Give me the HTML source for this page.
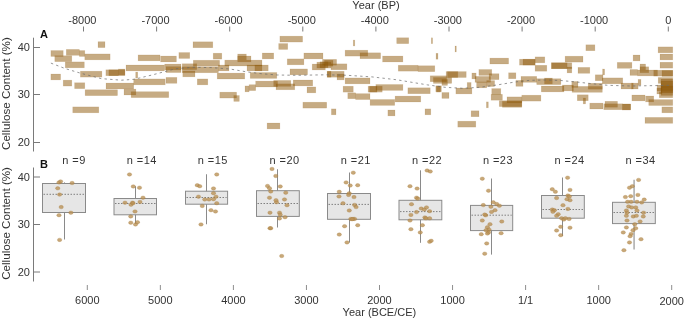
<!DOCTYPE html><html><head><meta charset="utf-8"><style>html,body{margin:0;padding:0;background:#fff;}svg{display:block;will-change:transform}text{font-family:"Liberation Sans",sans-serif;}</style></head><body>
<svg width="685" height="320" viewBox="0 0 685 320">
<rect width="685" height="320" fill="#fff"/>
<text x="376" y="8.6" font-size="11" text-anchor="middle" fill="#333">Year (BP)</text>
<text x="82.4" y="23.6" font-size="11" text-anchor="middle" fill="#333">-8000</text>
<line x1="83.5" y1="26.5" x2="83.5" y2="31.5" stroke="#7a7a7a" stroke-width="1"/>
<text x="155.5" y="23.6" font-size="11" text-anchor="middle" fill="#333">-7000</text>
<line x1="156.6" y1="26.5" x2="156.6" y2="31.5" stroke="#7a7a7a" stroke-width="1"/>
<text x="228.6" y="23.6" font-size="11" text-anchor="middle" fill="#333">-6000</text>
<line x1="229.7" y1="26.5" x2="229.7" y2="31.5" stroke="#7a7a7a" stroke-width="1"/>
<text x="301.7" y="23.6" font-size="11" text-anchor="middle" fill="#333">-5000</text>
<line x1="302.8" y1="26.5" x2="302.8" y2="31.5" stroke="#7a7a7a" stroke-width="1"/>
<text x="374.8" y="23.6" font-size="11" text-anchor="middle" fill="#333">-4000</text>
<line x1="375.9" y1="26.5" x2="375.9" y2="31.5" stroke="#7a7a7a" stroke-width="1"/>
<text x="447.9" y="23.6" font-size="11" text-anchor="middle" fill="#333">-3000</text>
<line x1="449" y1="26.5" x2="449" y2="31.5" stroke="#7a7a7a" stroke-width="1"/>
<text x="521" y="23.6" font-size="11" text-anchor="middle" fill="#333">-2000</text>
<line x1="522.1" y1="26.5" x2="522.1" y2="31.5" stroke="#7a7a7a" stroke-width="1"/>
<text x="594.1" y="23.6" font-size="11" text-anchor="middle" fill="#333">-1000</text>
<line x1="595.2" y1="26.5" x2="595.2" y2="31.5" stroke="#7a7a7a" stroke-width="1"/>
<text x="668.3" y="23.6" font-size="11" text-anchor="middle" fill="#333">0</text>
<line x1="668.3" y1="26.5" x2="668.3" y2="31.5" stroke="#7a7a7a" stroke-width="1"/>
<line x1="33.5" y1="37.7" x2="33.5" y2="151.5" stroke="#7a7a7a" stroke-width="1"/>
<line x1="33.5" y1="47.5" x2="40" y2="47.5" stroke="#7a7a7a" stroke-width="1"/>
<text x="30" y="51.3" font-size="11" text-anchor="end" fill="#333">40</text>
<line x1="33.5" y1="94.5" x2="40" y2="94.5" stroke="#7a7a7a" stroke-width="1"/>
<text x="30" y="98.3" font-size="11" text-anchor="end" fill="#333">30</text>
<line x1="33.5" y1="142.5" x2="40" y2="142.5" stroke="#7a7a7a" stroke-width="1"/>
<text x="30" y="146.3" font-size="11" text-anchor="end" fill="#333">20</text>
<text x="39.9" y="37.6" font-size="11" font-weight="bold" fill="#111">A</text>
<text transform="translate(10.2,93.6) rotate(-90)" font-size="11.6" text-anchor="middle" fill="#333">Cellulose Content (%)</text>
<g fill="rgb(141,88,8)" fill-opacity="0.5" stroke="rgb(141,88,8)" stroke-opacity="0.16" stroke-width="0.6">
<rect x="50.9" y="50.55" width="12.3" height="5.9"/>
<rect x="54.8" y="55.75" width="17" height="5.9"/>
<rect x="66.3" y="49.4" width="13" height="5.9"/>
<rect x="79.3" y="50.55" width="5.5" height="5.9"/>
<rect x="84.8" y="53.95" width="25.3" height="5.9"/>
<rect x="98" y="41.7" width="7" height="5.9"/>
<rect x="65.25" y="61.9" width="19.05" height="5.9"/>
<rect x="50.9" y="74" width="9.7" height="5.9"/>
<rect x="80.4" y="71.2" width="21.5" height="5.9"/>
<rect x="105.9" y="69.8" width="19" height="5.9"/>
<rect x="108.9" y="69.8" width="9.5" height="5.9"/>
<rect x="118.4" y="69" width="6.5" height="5.9"/>
<rect x="126" y="65" width="38.4" height="5.9"/>
<rect x="63.2" y="80.15" width="8.6" height="5.9"/>
<rect x="74.6" y="82.75" width="10.2" height="5.9"/>
<rect x="85.1" y="89.75" width="32.4" height="5.9"/>
<rect x="106" y="83.05" width="27.7" height="5.9"/>
<rect x="124" y="89.1" width="11.9" height="5.9"/>
<rect x="133.7" y="78.95" width="31.5" height="5.9"/>
<rect x="131.1" y="91.7" width="37.65" height="5.9"/>
<rect x="135.7" y="72.05" width="2" height="5.9"/>
<rect x="72.75" y="106.9" width="26.05" height="5.9"/>
<rect x="138.1" y="54.95" width="21.9" height="5.9"/>
<rect x="160.6" y="56.05" width="15.8" height="5.9"/>
<rect x="178.9" y="52.55" width="10.8" height="5.9"/>
<rect x="193" y="41.8" width="19.8" height="5.9"/>
<rect x="213.2" y="53.2" width="8.6" height="5.9"/>
<rect x="224.8" y="60.1" width="37.2" height="5.9"/>
<rect x="164.7" y="64.05" width="16.3" height="5.9"/>
<rect x="166" y="66.65" width="15" height="5.9"/>
<rect x="182.2" y="63.75" width="14.6" height="5.9"/>
<rect x="193.3" y="60.25" width="26.3" height="5.9"/>
<rect x="182.2" y="66.85" width="36.2" height="5.9"/>
<rect x="182.8" y="70.95" width="12.2" height="5.9"/>
<rect x="217.2" y="73.1" width="27.55" height="5.9"/>
<rect x="218.4" y="65" width="10.6" height="5.9"/>
<rect x="166" y="77.4" width="10.9" height="5.9"/>
<rect x="197.3" y="78.95" width="10.5" height="5.9"/>
<rect x="219.8" y="92.15" width="16.8" height="5.9"/>
<rect x="279.9" y="36.15" width="22.7" height="5.9"/>
<rect x="278.7" y="43.55" width="9" height="5.9"/>
<rect x="262.25" y="53" width="11.45" height="5.9"/>
<rect x="303.9" y="53" width="19.1" height="5.9"/>
<rect x="287.25" y="58.9" width="16.65" height="5.9"/>
<rect x="237.7" y="54" width="8.6" height="5.9"/>
<rect x="237.7" y="56" width="13.3" height="5.9"/>
<rect x="247" y="65" width="15" height="5.9"/>
<rect x="254.9" y="65" width="13.3" height="5.9"/>
<rect x="250.2" y="72.5" width="26.6" height="5.9"/>
<rect x="290" y="68.95" width="17.5" height="5.9"/>
<rect x="312.2" y="64.05" width="13.1" height="5.9"/>
<rect x="316.9" y="62.15" width="14.1" height="5.9"/>
<rect x="322.5" y="59.35" width="14.1" height="5.9"/>
<rect x="320" y="61.8" width="8" height="5.9"/>
<rect x="324.5" y="60.3" width="8.5" height="5.9"/>
<rect x="331" y="63.85" width="15.9" height="5.9"/>
<rect x="327.2" y="71.3" width="16.9" height="5.9"/>
<rect x="327.2" y="71.3" width="3.8" height="5.9"/>
<rect x="337" y="74" width="7.1" height="5.9"/>
<rect x="255.7" y="81.1" width="21.9" height="5.9"/>
<rect x="273.7" y="80.45" width="17.1" height="5.9"/>
<rect x="276" y="83.85" width="18.75" height="5.9"/>
<rect x="293.2" y="80" width="19.5" height="5.9"/>
<rect x="245" y="85.95" width="4.1" height="5.9"/>
<rect x="249.1" y="84.7" width="6.6" height="5.9"/>
<rect x="233.8" y="95.5" width="5.5" height="5.9"/>
<rect x="307" y="86.95" width="8.8" height="5.9"/>
<rect x="302.9" y="102.2" width="23.8" height="5.9"/>
<rect x="267.1" y="123" width="12.8" height="5.9"/>
<rect x="353.25" y="40.05" width="1.55" height="5.9"/>
<rect x="396.7" y="37.75" width="12" height="5.9"/>
<rect x="345.1" y="50.2" width="22.7" height="5.9"/>
<rect x="360" y="52.8" width="20.6" height="5.9"/>
<rect x="382.6" y="56.05" width="20.3" height="5.9"/>
<rect x="398.25" y="65.25" width="19.85" height="5.9"/>
<rect x="418.1" y="65.75" width="16.7" height="5.9"/>
<rect x="345.1" y="77.95" width="24.9" height="5.9"/>
<rect x="375.9" y="84.5" width="27" height="5.9"/>
<rect x="343.1" y="86.22" width="10.15" height="5.9"/>
<rect x="347.8" y="92.8" width="7.8" height="5.9"/>
<rect x="355.6" y="93.65" width="14.4" height="5.9"/>
<rect x="368.1" y="86.22" width="14.1" height="5.9"/>
<rect x="369.6" y="86.22" width="7.4" height="5.9"/>
<rect x="370.1" y="99.5" width="24.6" height="5.9"/>
<rect x="395.1" y="96.1" width="25.65" height="5.9"/>
<rect x="407.9" y="87.8" width="22.3" height="5.9"/>
<rect x="331.4" y="108.9" width="4.6" height="5.9"/>
<rect x="387.9" y="110" width="7.1" height="5.9"/>
<rect x="431.3" y="37.8" width="1.3" height="5.9"/>
<rect x="455" y="46" width="1.3" height="5.9"/>
<rect x="436" y="53.3" width="2" height="5.9"/>
<rect x="489.9" y="58.1" width="18.7" height="5.9"/>
<rect x="446.1" y="71.6" width="20.1" height="5.9"/>
<rect x="447.5" y="71.6" width="10.3" height="5.9"/>
<rect x="430.2" y="75.8" width="16.4" height="5.9"/>
<rect x="433.4" y="77.5" width="18.3" height="5.9"/>
<rect x="441.9" y="79.5" width="5.6" height="5.9"/>
<rect x="471.9" y="73" width="4.2" height="5.9"/>
<rect x="478.9" y="69.5" width="12.85" height="5.9"/>
<rect x="475" y="76.4" width="15.6" height="5.9"/>
<rect x="489.1" y="73.72" width="9.9" height="5.9"/>
<rect x="508.6" y="72.8" width="7.3" height="5.9"/>
<rect x="486.75" y="80.6" width="7.85" height="5.9"/>
<rect x="476.6" y="81.9" width="10.15" height="5.9"/>
<rect x="467.2" y="82.5" width="3.9" height="5.9"/>
<rect x="435.8" y="85.8" width="5.6" height="5.9"/>
<rect x="436.5" y="86.2" width="4" height="5.9"/>
<rect x="441.9" y="92.5" width="7.1" height="5.9"/>
<rect x="455.9" y="88" width="16" height="5.9"/>
<rect x="491.75" y="88.6" width="9.05" height="5.9"/>
<rect x="491.1" y="94.3" width="11.3" height="5.9"/>
<rect x="499.25" y="100.7" width="22.55" height="5.9"/>
<rect x="502.4" y="101.4" width="19.4" height="5.9"/>
<rect x="507" y="96.9" width="14.8" height="5.9"/>
<rect x="486.4" y="101.9" width="1.9" height="5.9"/>
<rect x="425" y="108.9" width="5.8" height="5.9"/>
<rect x="471.1" y="110.8" width="7.9" height="5.9"/>
<rect x="457.8" y="121.2" width="18" height="5.9"/>
<rect x="585.9" y="44.8" width="9" height="5.9"/>
<rect x="519.5" y="59.2" width="15.6" height="5.9"/>
<rect x="523" y="59.2" width="12.1" height="5.9"/>
<rect x="535.1" y="56.9" width="9.7" height="5.9"/>
<rect x="535.1" y="65.3" width="11.7" height="5.9"/>
<rect x="565.1" y="56.2" width="17.9" height="5.9"/>
<rect x="551.5" y="62.8" width="20.3" height="5.9"/>
<rect x="551.5" y="62.8" width="15.6" height="5.9"/>
<rect x="567.1" y="67" width="4.7" height="5.9"/>
<rect x="578" y="67.4" width="11.8" height="5.9"/>
<rect x="602.6" y="69" width="2" height="5.9"/>
<rect x="595.25" y="74.8" width="7.75" height="5.9"/>
<rect x="602.3" y="77.9" width="20.45" height="5.9"/>
<rect x="521" y="76.4" width="15.7" height="5.9"/>
<rect x="515.9" y="80.4" width="7.1" height="5.9"/>
<rect x="544.5" y="78" width="7.8" height="5.9"/>
<rect x="536.7" y="78.72" width="24.2" height="5.9"/>
<rect x="571.8" y="81.5" width="6.2" height="5.9"/>
<rect x="541.3" y="86" width="22.7" height="5.9"/>
<rect x="562.4" y="85" width="11" height="5.9"/>
<rect x="572.1" y="86.4" width="30.2" height="5.9"/>
<rect x="588.2" y="83.3" width="14.1" height="5.9"/>
<rect x="521.8" y="95.2" width="19.1" height="5.9"/>
<rect x="577.3" y="94.8" width="10.9" height="5.9"/>
<rect x="583.2" y="98" width="2.4" height="5.9"/>
<rect x="589.8" y="103.1" width="13.2" height="5.9"/>
<rect x="603.8" y="103.8" width="18.7" height="5.9"/>
<rect x="605" y="101.3" width="12.5" height="5.9"/>
<rect x="658.1" y="46.9" width="14.65" height="5.9"/>
<rect x="660" y="54" width="12.75" height="5.9"/>
<rect x="660" y="62.22" width="12.75" height="5.9"/>
<rect x="633.1" y="55" width="6.9" height="5.9"/>
<rect x="617.25" y="62.4" width="14.65" height="5.9"/>
<rect x="640" y="64" width="5.6" height="5.9"/>
<rect x="640" y="66.8" width="8.75" height="5.9"/>
<rect x="630" y="69.5" width="7.5" height="5.9"/>
<rect x="637.5" y="70" width="20" height="5.9"/>
<rect x="653.75" y="70.2" width="19" height="5.9"/>
<rect x="662" y="70.5" width="10.75" height="5.9"/>
<rect x="621" y="83.1" width="17.1" height="5.9"/>
<rect x="631.6" y="83.1" width="1.6" height="5.9"/>
<rect x="638.1" y="79.4" width="2.9" height="5.9"/>
<rect x="658.2" y="77.5" width="14.55" height="5.9"/>
<rect x="661" y="79" width="11.75" height="5.9"/>
<rect x="661" y="83.5" width="11.75" height="5.9"/>
<rect x="657.1" y="85" width="15.65" height="5.9"/>
<rect x="661" y="87" width="11.75" height="5.9"/>
<rect x="659.3" y="91.8" width="13.45" height="5.9"/>
<rect x="661" y="89.5" width="11.75" height="5.9"/>
<rect x="661" y="81" width="11.75" height="5.9"/>
<rect x="661" y="86" width="11.75" height="5.9"/>
<rect x="656.9" y="88.1" width="5" height="5.9"/>
<rect x="631.9" y="95" width="13.1" height="5.9"/>
<rect x="645.6" y="96" width="8.15" height="5.9"/>
<rect x="648.75" y="99.6" width="24" height="5.9"/>
<rect x="622.5" y="104" width="8.1" height="5.9"/>
<rect x="622.5" y="104" width="8.1" height="5.9"/>
<rect x="661.9" y="106.9" width="10.85" height="5.9"/>
<rect x="645" y="117.4" width="27.75" height="5.9"/>
</g>
<polyline points="50.9,63.1 65,68.5 80.9,73.3 101.2,78.6 121.5,80.2 134,79.3 139.4,78 152,75 164.4,71.7 175.3,68.8 192.5,67.3 211.25,67.6 230,69 246.3,71.8 262,73.8 277.6,75 296.3,75.3 326,74.8 347,75.3 372,76.9 397,79.8 410,82 427.5,84.9 445,87.3 462.5,88.3 480,87.3 497.5,84.9 515,82 530,80.3 545,80 560.9,80.5 576.5,82 592.1,83.7 607.75,85.3 630,86 655,85.6 672.5,85.3" fill="none" stroke="#6a6a6a" stroke-width="0.7" stroke-dasharray="2.4,3.2"/>
<line x1="33.5" y1="167.5" x2="33.5" y2="281.5" stroke="#7a7a7a" stroke-width="1"/>
<line x1="33.5" y1="177.0" x2="40" y2="177.0" stroke="#7a7a7a" stroke-width="1"/>
<text x="30" y="180.8" font-size="11" text-anchor="end" fill="#333">40</text>
<line x1="33.5" y1="224.5" x2="40" y2="224.5" stroke="#7a7a7a" stroke-width="1"/>
<text x="30" y="228.3" font-size="11" text-anchor="end" fill="#333">30</text>
<line x1="33.5" y1="272.0" x2="40" y2="272.0" stroke="#7a7a7a" stroke-width="1"/>
<text x="30" y="275.8" font-size="11" text-anchor="end" fill="#333">20</text>
<text x="39.9" y="168.0" font-size="11" font-weight="bold" fill="#111">B</text>
<text transform="translate(10.2,223.4) rotate(-90)" font-size="11.6" text-anchor="middle" fill="#333">Cellulose Content (%)</text>
<line x1="64.5" y1="182.4" x2="64.5" y2="239.5" stroke="#8a8a8a" stroke-width="1"/>
<rect x="42.5" y="183.5" width="43" height="29" fill="#e6e6e6" stroke="#8a8a8a" stroke-width="1"/>
<line x1="43.5" y1="194.3" x2="84.5" y2="194.3" stroke="#666" stroke-width="0.8" stroke-dasharray="1.5,1.5"/>
<text x="85.8" y="163.6" font-size="11" letter-spacing="0.45" text-anchor="end" fill="#333">n =9</text>
<g fill="rgb(186,146,88)" fill-opacity="0.8" stroke="rgb(160,115,50)" stroke-opacity="0.45" stroke-width="0.6">
<ellipse cx="59" cy="182.4" rx="2.2" ry="1.75"/>
<ellipse cx="60.6" cy="181.45" rx="2.2" ry="1.75"/>
<ellipse cx="72.1" cy="183" rx="2.2" ry="1.75"/>
<ellipse cx="57.75" cy="188.3" rx="2.2" ry="1.75"/>
<ellipse cx="59.6" cy="194.6" rx="2.2" ry="1.75"/>
<ellipse cx="61.2" cy="207.1" rx="2.2" ry="1.75"/>
<ellipse cx="59" cy="215.2" rx="2.2" ry="1.75"/>
<ellipse cx="70.9" cy="212.7" rx="2.2" ry="1.75"/>
<ellipse cx="59.6" cy="239.9" rx="2.2" ry="1.75"/>
</g>
<line x1="135.5" y1="186.25" x2="135.5" y2="224" stroke="#8a8a8a" stroke-width="1"/>
<rect x="114" y="198.5" width="42.5" height="16.3" fill="#e6e6e6" stroke="#8a8a8a" stroke-width="1"/>
<line x1="115" y1="203.5" x2="155.5" y2="203.5" stroke="#666" stroke-width="0.8" stroke-dasharray="1.5,1.5"/>
<text x="156.8" y="163.6" font-size="11" letter-spacing="0.45" text-anchor="end" fill="#333">n =14</text>
<g fill="rgb(186,146,88)" fill-opacity="0.8" stroke="rgb(160,115,50)" stroke-opacity="0.45" stroke-width="0.6">
<ellipse cx="129.5" cy="174.45" rx="2.2" ry="1.75"/>
<ellipse cx="133.25" cy="186.45" rx="2.2" ry="1.75"/>
<ellipse cx="139.5" cy="187.7" rx="2.2" ry="1.75"/>
<ellipse cx="143" cy="197.7" rx="2.2" ry="1.75"/>
<ellipse cx="125" cy="202.7" rx="2.2" ry="1.75"/>
<ellipse cx="132.5" cy="202.7" rx="2.2" ry="1.75"/>
<ellipse cx="131" cy="204.7" rx="2.2" ry="1.75"/>
<ellipse cx="140" cy="201.95" rx="2.2" ry="1.75"/>
<ellipse cx="135" cy="211.45" rx="2.2" ry="1.75"/>
<ellipse cx="130.75" cy="216.45" rx="2.2" ry="1.75"/>
<ellipse cx="130.75" cy="222.7" rx="2.2" ry="1.75"/>
<ellipse cx="137.5" cy="222.2" rx="2.2" ry="1.75"/>
<ellipse cx="135.5" cy="224.45" rx="2.2" ry="1.75"/>
<ellipse cx="133" cy="203.2" rx="2.2" ry="1.75"/>
</g>
<line x1="206.5" y1="174.25" x2="206.5" y2="224.25" stroke="#8a8a8a" stroke-width="1"/>
<rect x="185.5" y="191.2" width="42.1" height="13" fill="#e6e6e6" stroke="#8a8a8a" stroke-width="1"/>
<line x1="186.5" y1="197.5" x2="226.6" y2="197.5" stroke="#666" stroke-width="0.8" stroke-dasharray="1.5,1.5"/>
<text x="227.9" y="163.6" font-size="11" letter-spacing="0.45" text-anchor="end" fill="#333">n =15</text>
<g fill="rgb(186,146,88)" fill-opacity="0.8" stroke="rgb(160,115,50)" stroke-opacity="0.45" stroke-width="0.6">
<ellipse cx="216.75" cy="174.45" rx="2.2" ry="1.75"/>
<ellipse cx="197.25" cy="185.2" rx="2.2" ry="1.75"/>
<ellipse cx="199.75" cy="186.2" rx="2.2" ry="1.75"/>
<ellipse cx="213.5" cy="188.45" rx="2.2" ry="1.75"/>
<ellipse cx="213.5" cy="193.2" rx="2.2" ry="1.75"/>
<ellipse cx="198.5" cy="196.7" rx="2.2" ry="1.75"/>
<ellipse cx="216" cy="196.7" rx="2.2" ry="1.75"/>
<ellipse cx="213.5" cy="199.2" rx="2.2" ry="1.75"/>
<ellipse cx="204.75" cy="199.45" rx="2.2" ry="1.75"/>
<ellipse cx="209" cy="199.45" rx="2.2" ry="1.75"/>
<ellipse cx="216.75" cy="203.2" rx="2.2" ry="1.75"/>
<ellipse cx="202.25" cy="205.95" rx="2.2" ry="1.75"/>
<ellipse cx="211" cy="210.2" rx="2.2" ry="1.75"/>
<ellipse cx="215.5" cy="211.45" rx="2.2" ry="1.75"/>
<ellipse cx="201" cy="224.45" rx="2.2" ry="1.75"/>
</g>
<line x1="277.5" y1="169.25" x2="277.5" y2="227.5" stroke="#8a8a8a" stroke-width="1"/>
<rect x="256.5" y="190.7" width="42.8" height="25.7" fill="#e6e6e6" stroke="#8a8a8a" stroke-width="1"/>
<line x1="257.5" y1="203.5" x2="298.3" y2="203.5" stroke="#666" stroke-width="0.8" stroke-dasharray="1.5,1.5"/>
<text x="299.6" y="163.6" font-size="11" letter-spacing="0.45" text-anchor="end" fill="#333">n =20</text>
<g fill="rgb(186,146,88)" fill-opacity="0.8" stroke="rgb(160,115,50)" stroke-opacity="0.45" stroke-width="0.6">
<ellipse cx="272" cy="168.95" rx="2.2" ry="1.75"/>
<ellipse cx="275.75" cy="175.95" rx="2.2" ry="1.75"/>
<ellipse cx="267.5" cy="185.95" rx="2.2" ry="1.75"/>
<ellipse cx="269.5" cy="188.2" rx="2.2" ry="1.75"/>
<ellipse cx="270.75" cy="191.45" rx="2.2" ry="1.75"/>
<ellipse cx="280.25" cy="186.45" rx="2.2" ry="1.75"/>
<ellipse cx="285.75" cy="192.7" rx="2.2" ry="1.75"/>
<ellipse cx="269.5" cy="197.7" rx="2.2" ry="1.75"/>
<ellipse cx="284.5" cy="199.45" rx="2.2" ry="1.75"/>
<ellipse cx="276.5" cy="202.2" rx="2.2" ry="1.75"/>
<ellipse cx="287" cy="205.2" rx="2.2" ry="1.75"/>
<ellipse cx="270" cy="212.7" rx="2.2" ry="1.75"/>
<ellipse cx="279.5" cy="212.7" rx="2.2" ry="1.75"/>
<ellipse cx="280.25" cy="214.7" rx="2.2" ry="1.75"/>
<ellipse cx="285" cy="217.2" rx="2.2" ry="1.75"/>
<ellipse cx="279.5" cy="218.45" rx="2.2" ry="1.75"/>
<ellipse cx="270" cy="228.2" rx="2.2" ry="1.75"/>
<ellipse cx="270.75" cy="228.2" rx="2.2" ry="1.75"/>
<ellipse cx="281.7" cy="256" rx="2.2" ry="1.75"/>
<ellipse cx="276" cy="200.2" rx="2.2" ry="1.75"/>
</g>
<line x1="349.5" y1="172.5" x2="349.5" y2="242.5" stroke="#8a8a8a" stroke-width="1"/>
<rect x="327.5" y="193.5" width="43" height="25.8" fill="#e6e6e6" stroke="#8a8a8a" stroke-width="1"/>
<line x1="328.5" y1="204.4" x2="369.5" y2="204.4" stroke="#666" stroke-width="0.8" stroke-dasharray="1.5,1.5"/>
<text x="370.8" y="163.6" font-size="11" letter-spacing="0.45" text-anchor="end" fill="#333">n =21</text>
<g fill="rgb(186,146,88)" fill-opacity="0.8" stroke="rgb(160,115,50)" stroke-opacity="0.45" stroke-width="0.6">
<ellipse cx="353.3" cy="172.7" rx="2.2" ry="1.75"/>
<ellipse cx="346.1" cy="182.4" rx="2.2" ry="1.75"/>
<ellipse cx="350.2" cy="185.5" rx="2.2" ry="1.75"/>
<ellipse cx="357.7" cy="185.2" rx="2.2" ry="1.75"/>
<ellipse cx="339.25" cy="191.8" rx="2.2" ry="1.75"/>
<ellipse cx="349.25" cy="193.3" rx="2.2" ry="1.75"/>
<ellipse cx="348.6" cy="194.9" rx="2.2" ry="1.75"/>
<ellipse cx="339" cy="196.45" rx="2.2" ry="1.75"/>
<ellipse cx="354" cy="197.1" rx="2.2" ry="1.75"/>
<ellipse cx="343" cy="203.3" rx="2.2" ry="1.75"/>
<ellipse cx="354.6" cy="204.9" rx="2.2" ry="1.75"/>
<ellipse cx="356.1" cy="207.1" rx="2.2" ry="1.75"/>
<ellipse cx="349.25" cy="210.5" rx="2.2" ry="1.75"/>
<ellipse cx="350.8" cy="218.95" rx="2.2" ry="1.75"/>
<ellipse cx="354.6" cy="218.95" rx="2.2" ry="1.75"/>
<ellipse cx="353" cy="218.95" rx="2.2" ry="1.75"/>
<ellipse cx="344.6" cy="226.2" rx="2.2" ry="1.75"/>
<ellipse cx="357.7" cy="225.2" rx="2.2" ry="1.75"/>
<ellipse cx="339.25" cy="234.6" rx="2.2" ry="1.75"/>
<ellipse cx="347" cy="242.4" rx="2.2" ry="1.75"/>
<ellipse cx="352" cy="219.2" rx="2.2" ry="1.75"/>
</g>
<line x1="420.5" y1="170.3" x2="420.5" y2="242.8" stroke="#8a8a8a" stroke-width="1"/>
<rect x="399" y="200.3" width="42.8" height="19.5" fill="#e6e6e6" stroke="#8a8a8a" stroke-width="1"/>
<line x1="400" y1="211.6" x2="440.8" y2="211.6" stroke="#666" stroke-width="0.8" stroke-dasharray="1.5,1.5"/>
<text x="442.1" y="163.6" font-size="11" letter-spacing="0.45" text-anchor="end" fill="#333">n =22</text>
<g fill="rgb(186,146,88)" fill-opacity="0.8" stroke="rgb(160,115,50)" stroke-opacity="0.45" stroke-width="0.6">
<ellipse cx="427.1" cy="170.5" rx="2.2" ry="1.75"/>
<ellipse cx="430.25" cy="171.45" rx="2.2" ry="1.75"/>
<ellipse cx="410" cy="186.2" rx="2.2" ry="1.75"/>
<ellipse cx="417.1" cy="188.6" rx="2.2" ry="1.75"/>
<ellipse cx="416.5" cy="197.7" rx="2.2" ry="1.75"/>
<ellipse cx="417.75" cy="198.6" rx="2.2" ry="1.75"/>
<ellipse cx="411.5" cy="204.2" rx="2.2" ry="1.75"/>
<ellipse cx="421.2" cy="208.6" rx="2.2" ry="1.75"/>
<ellipse cx="424.3" cy="209.6" rx="2.2" ry="1.75"/>
<ellipse cx="426.5" cy="207.4" rx="2.2" ry="1.75"/>
<ellipse cx="416.5" cy="212.1" rx="2.2" ry="1.75"/>
<ellipse cx="429.6" cy="211.2" rx="2.2" ry="1.75"/>
<ellipse cx="410.9" cy="214.9" rx="2.2" ry="1.75"/>
<ellipse cx="424.9" cy="217.4" rx="2.2" ry="1.75"/>
<ellipse cx="425.9" cy="218.3" rx="2.2" ry="1.75"/>
<ellipse cx="429.6" cy="218.3" rx="2.2" ry="1.75"/>
<ellipse cx="410" cy="220.5" rx="2.2" ry="1.75"/>
<ellipse cx="422.4" cy="225.2" rx="2.2" ry="1.75"/>
<ellipse cx="410.9" cy="229.2" rx="2.2" ry="1.75"/>
<ellipse cx="420.25" cy="232.4" rx="2.2" ry="1.75"/>
<ellipse cx="429.6" cy="241.8" rx="2.2" ry="1.75"/>
<ellipse cx="431.2" cy="240.8" rx="2.2" ry="1.75"/>
</g>
<line x1="491.5" y1="178.5" x2="491.5" y2="254.6" stroke="#8a8a8a" stroke-width="1"/>
<rect x="470.5" y="205.4" width="42.2" height="25.2" fill="#e6e6e6" stroke="#8a8a8a" stroke-width="1"/>
<line x1="471.5" y1="215.2" x2="511.7" y2="215.2" stroke="#666" stroke-width="0.8" stroke-dasharray="1.5,1.5"/>
<text x="513" y="163.6" font-size="11" letter-spacing="0.45" text-anchor="end" fill="#333">n =23</text>
<g fill="rgb(186,146,88)" fill-opacity="0.8" stroke="rgb(160,115,50)" stroke-opacity="0.45" stroke-width="0.6">
<ellipse cx="482.3" cy="178.7" rx="2.2" ry="1.75"/>
<ellipse cx="488.5" cy="190.7" rx="2.2" ry="1.75"/>
<ellipse cx="493.25" cy="202.3" rx="2.2" ry="1.75"/>
<ellipse cx="496.7" cy="204" rx="2.2" ry="1.75"/>
<ellipse cx="499.4" cy="205.7" rx="2.2" ry="1.75"/>
<ellipse cx="483.3" cy="205.1" rx="2.2" ry="1.75"/>
<ellipse cx="490.9" cy="206.8" rx="2.2" ry="1.75"/>
<ellipse cx="491.5" cy="211.9" rx="2.2" ry="1.75"/>
<ellipse cx="485.7" cy="215.3" rx="2.2" ry="1.75"/>
<ellipse cx="484.7" cy="214.6" rx="2.2" ry="1.75"/>
<ellipse cx="482.3" cy="220.5" rx="2.2" ry="1.75"/>
<ellipse cx="501.8" cy="221.5" rx="2.2" ry="1.75"/>
<ellipse cx="487.4" cy="227.3" rx="2.2" ry="1.75"/>
<ellipse cx="489.1" cy="229.7" rx="2.2" ry="1.75"/>
<ellipse cx="488.5" cy="232.5" rx="2.2" ry="1.75"/>
<ellipse cx="481.25" cy="234.2" rx="2.2" ry="1.75"/>
<ellipse cx="487.4" cy="233.5" rx="2.2" ry="1.75"/>
<ellipse cx="501.1" cy="233.2" rx="2.2" ry="1.75"/>
<ellipse cx="486.7" cy="243.4" rx="2.2" ry="1.75"/>
<ellipse cx="484.7" cy="253.7" rx="2.2" ry="1.75"/>
<ellipse cx="490" cy="224.2" rx="2.2" ry="1.75"/>
<ellipse cx="495" cy="210.2" rx="2.2" ry="1.75"/>
<ellipse cx="486" cy="230.2" rx="2.2" ry="1.75"/>
</g>
<line x1="562.5" y1="177.5" x2="562.5" y2="236" stroke="#8a8a8a" stroke-width="1"/>
<rect x="541.5" y="195.5" width="42.8" height="22.7" fill="#e6e6e6" stroke="#8a8a8a" stroke-width="1"/>
<line x1="542.5" y1="209.5" x2="583.3" y2="209.5" stroke="#666" stroke-width="0.8" stroke-dasharray="1.5,1.5"/>
<text x="584.6" y="163.6" font-size="11" letter-spacing="0.45" text-anchor="end" fill="#333">n =24</text>
<g fill="rgb(186,146,88)" fill-opacity="0.8" stroke="rgb(160,115,50)" stroke-opacity="0.45" stroke-width="0.6">
<ellipse cx="567.6" cy="177.7" rx="2.2" ry="1.75"/>
<ellipse cx="552.25" cy="189.2" rx="2.2" ry="1.75"/>
<ellipse cx="555.4" cy="191.8" rx="2.2" ry="1.75"/>
<ellipse cx="570" cy="189.9" rx="2.2" ry="1.75"/>
<ellipse cx="567.9" cy="195.5" rx="2.2" ry="1.75"/>
<ellipse cx="569.4" cy="196.45" rx="2.2" ry="1.75"/>
<ellipse cx="556.6" cy="198" rx="2.2" ry="1.75"/>
<ellipse cx="567" cy="199.2" rx="2.2" ry="1.75"/>
<ellipse cx="570" cy="200.2" rx="2.2" ry="1.75"/>
<ellipse cx="552.25" cy="209.6" rx="2.2" ry="1.75"/>
<ellipse cx="554.4" cy="210.2" rx="2.2" ry="1.75"/>
<ellipse cx="567.9" cy="208.95" rx="2.2" ry="1.75"/>
<ellipse cx="552.9" cy="211.8" rx="2.2" ry="1.75"/>
<ellipse cx="558.2" cy="214.2" rx="2.2" ry="1.75"/>
<ellipse cx="556.6" cy="215.8" rx="2.2" ry="1.75"/>
<ellipse cx="561.6" cy="218.3" rx="2.2" ry="1.75"/>
<ellipse cx="563.8" cy="219.6" rx="2.2" ry="1.75"/>
<ellipse cx="569.1" cy="218.95" rx="2.2" ry="1.75"/>
<ellipse cx="565.4" cy="218.2" rx="2.2" ry="1.75"/>
<ellipse cx="560.7" cy="226.8" rx="2.2" ry="1.75"/>
<ellipse cx="570" cy="227.7" rx="2.2" ry="1.75"/>
<ellipse cx="556.6" cy="230.5" rx="2.2" ry="1.75"/>
<ellipse cx="560.7" cy="235.2" rx="2.2" ry="1.75"/>
<ellipse cx="563" cy="205.2" rx="2.2" ry="1.75"/>
</g>
<line x1="634.1" y1="179.7" x2="634.1" y2="249.4" stroke="#b8b8b8" stroke-width="1.8"/>
<rect x="612.5" y="202.3" width="42.8" height="21.3" fill="#e6e6e6" stroke="#8a8a8a" stroke-width="1"/>
<line x1="613.5" y1="212.5" x2="654.3" y2="212.5" stroke="#666" stroke-width="0.8" stroke-dasharray="1.5,1.5"/>
<text x="655.6" y="163.6" font-size="11" letter-spacing="0.45" text-anchor="end" fill="#333">n =34</text>
<g fill="rgb(186,146,88)" fill-opacity="0.8" stroke="rgb(160,115,50)" stroke-opacity="0.45" stroke-width="0.6">
<ellipse cx="638.6" cy="179.9" rx="2.2" ry="1.75"/>
<ellipse cx="632.3" cy="186.2" rx="2.2" ry="1.75"/>
<ellipse cx="629.5" cy="187.7" rx="2.2" ry="1.75"/>
<ellipse cx="637.9" cy="194.9" rx="2.2" ry="1.75"/>
<ellipse cx="625.4" cy="197.1" rx="2.2" ry="1.75"/>
<ellipse cx="630.75" cy="196.2" rx="2.2" ry="1.75"/>
<ellipse cx="644.2" cy="199.6" rx="2.2" ry="1.75"/>
<ellipse cx="627.6" cy="201.8" rx="2.2" ry="1.75"/>
<ellipse cx="631.1" cy="201.8" rx="2.2" ry="1.75"/>
<ellipse cx="637" cy="201.8" rx="2.2" ry="1.75"/>
<ellipse cx="641.7" cy="202.4" rx="2.2" ry="1.75"/>
<ellipse cx="628.6" cy="206.45" rx="2.2" ry="1.75"/>
<ellipse cx="631.7" cy="207.4" rx="2.2" ry="1.75"/>
<ellipse cx="635.75" cy="207.4" rx="2.2" ry="1.75"/>
<ellipse cx="626.4" cy="210.5" rx="2.2" ry="1.75"/>
<ellipse cx="637" cy="210.5" rx="2.2" ry="1.75"/>
<ellipse cx="643.6" cy="212.7" rx="2.2" ry="1.75"/>
<ellipse cx="627" cy="212.7" rx="2.2" ry="1.75"/>
<ellipse cx="633.25" cy="216.45" rx="2.2" ry="1.75"/>
<ellipse cx="636.4" cy="215.8" rx="2.2" ry="1.75"/>
<ellipse cx="626.4" cy="215.8" rx="2.2" ry="1.75"/>
<ellipse cx="643.25" cy="216.45" rx="2.2" ry="1.75"/>
<ellipse cx="627" cy="220.5" rx="2.2" ry="1.75"/>
<ellipse cx="640.1" cy="221.45" rx="2.2" ry="1.75"/>
<ellipse cx="634.8" cy="224.2" rx="2.2" ry="1.75"/>
<ellipse cx="626.4" cy="227.4" rx="2.2" ry="1.75"/>
<ellipse cx="635.75" cy="228.3" rx="2.2" ry="1.75"/>
<ellipse cx="623.25" cy="232.4" rx="2.2" ry="1.75"/>
<ellipse cx="631.1" cy="233.95" rx="2.2" ry="1.75"/>
<ellipse cx="630.1" cy="236.2" rx="2.2" ry="1.75"/>
<ellipse cx="641" cy="239.2" rx="2.2" ry="1.75"/>
<ellipse cx="629.5" cy="242.4" rx="2.2" ry="1.75"/>
<ellipse cx="623.9" cy="250.2" rx="2.2" ry="1.75"/>
<ellipse cx="633" cy="230.2" rx="2.2" ry="1.75"/>
</g>
<line x1="87.3" y1="285" x2="87.3" y2="290" stroke="#8e8e8e" stroke-width="1"/>
<text x="87.3" y="303.7" font-size="11" text-anchor="middle" fill="#333">6000</text>
<line x1="160.35" y1="285" x2="160.35" y2="290" stroke="#8e8e8e" stroke-width="1"/>
<text x="160.35" y="303.7" font-size="11" text-anchor="middle" fill="#333">5000</text>
<line x1="233.4" y1="285" x2="233.4" y2="290" stroke="#8e8e8e" stroke-width="1"/>
<text x="233.4" y="303.7" font-size="11" text-anchor="middle" fill="#333">4000</text>
<line x1="306.45" y1="285" x2="306.45" y2="290" stroke="#8e8e8e" stroke-width="1"/>
<text x="306.45" y="303.7" font-size="11" text-anchor="middle" fill="#333">3000</text>
<line x1="379.5" y1="285" x2="379.5" y2="290" stroke="#8e8e8e" stroke-width="1"/>
<text x="379.5" y="303.7" font-size="11" text-anchor="middle" fill="#333">2000</text>
<line x1="452.55" y1="285" x2="452.55" y2="290" stroke="#8e8e8e" stroke-width="1"/>
<text x="452.55" y="303.7" font-size="11" text-anchor="middle" fill="#333">1000</text>
<line x1="525.6" y1="285" x2="525.6" y2="290" stroke="#8e8e8e" stroke-width="1"/>
<text x="525.6" y="303.7" font-size="11" text-anchor="middle" fill="#333">1/1</text>
<line x1="598.65" y1="285" x2="598.65" y2="290" stroke="#8e8e8e" stroke-width="1"/>
<text x="598.65" y="303.7" font-size="11" text-anchor="middle" fill="#333">1000</text>
<line x1="671.7" y1="285" x2="671.7" y2="290" stroke="#8e8e8e" stroke-width="1"/>
<text x="671.7" y="304.8" font-size="11" text-anchor="middle" fill="#333">2000</text>
<text x="379.4" y="316.4" font-size="11" text-anchor="middle" fill="#333">Year (BCE/CE)</text>
</svg></body></html>
